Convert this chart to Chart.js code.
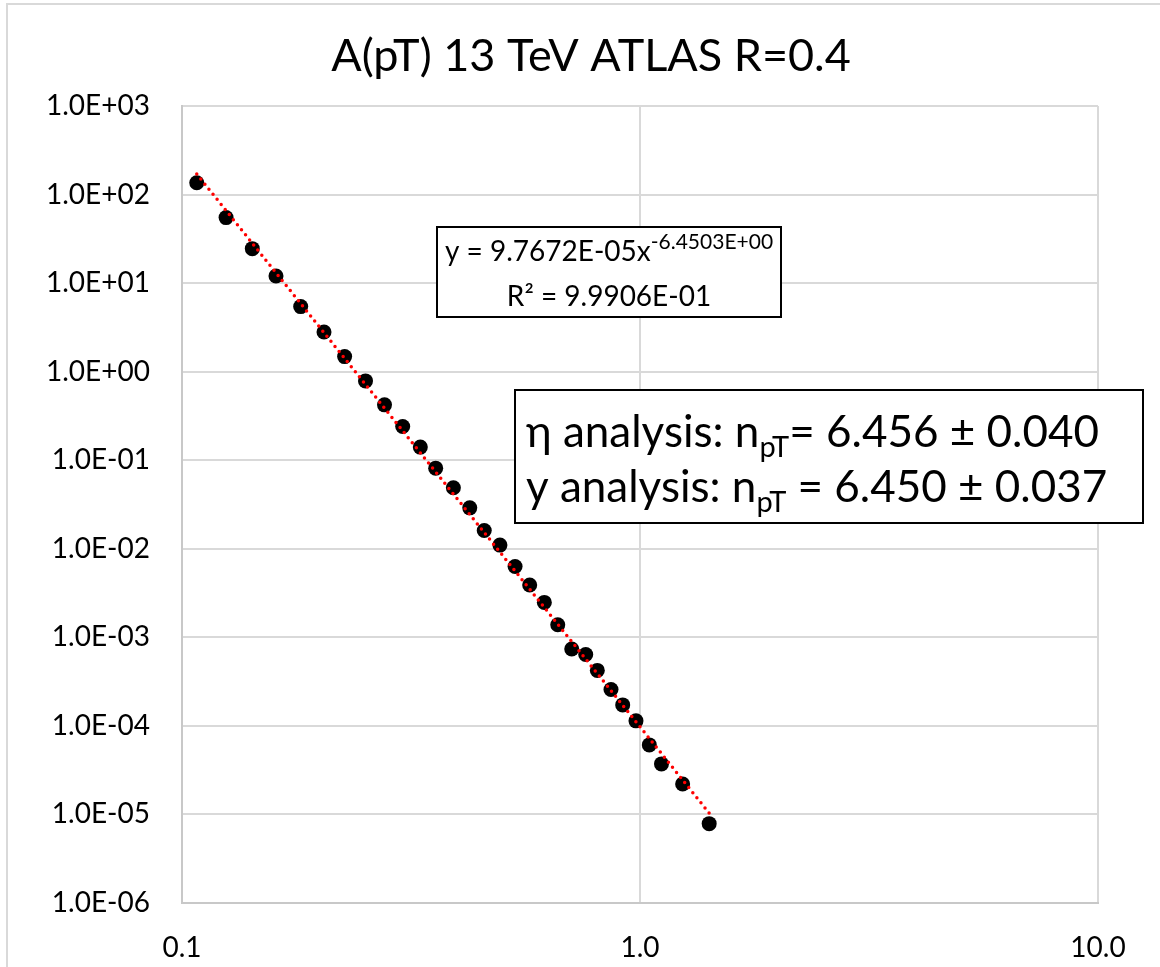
<!DOCTYPE html>
<html>
<head>
<meta charset="utf-8">
<title>A(pT) 13 TeV ATLAS R=0.4</title>
<script src="https://cdn.jsdelivr.net/npm/chart.js@4.4.0/dist/chart.umd.min.js"></script>
<style>
  html, body { margin: 0; padding: 0; background: #fff; }
</style>
</head>
<body>
<canvas id="grafico" width="1160" height="967"></canvas>
<script>
/* ******* Datos ******** */
const ptX = [0.1077, 0.1248, 0.1424, 0.1604, 0.1816, 0.2042, 0.2265, 0.2516, 0.2768, 0.3033,
             0.3314, 0.358, 0.3913, 0.4249, 0.457, 0.4945, 0.5336, 0.5743, 0.6182, 0.6613,
             0.7095, 0.7612, 0.8069, 0.8643, 0.9167, 0.980, 1.048, 1.114, 1.239, 1.416];
const ptA = [136, 54.9, 24.5, 12.05, 5.43, 2.81, 1.48, 0.787, 0.422, 0.240,
             0.1406, 0.0814, 0.0488, 0.0290, 0.0161, 0.0110, 0.00631, 0.0039, 0.00248, 0.001387,
             0.000738, 0.000641, 0.000423, 0.000258, 0.0001726, 0.000114, 6.1e-5, 3.72e-5, 2.21e-5, 7.87e-6];

// ajuste potencial y = A x^n
const ajusteA = 9.7672e-5;
const ajusteN = -6.4503;
const ajusteR2 = 0.99906;

// resultados de los dos analisis
const nEta = ["6.456", "0.040"];
const nRap = ["6.450", "0.037"];

const ticksX = [0.1, 1, 10];
const ticksY = [1e-6, 1e-5, 1e-4, 1e-3, 1e-2, 1e-1, 1, 1e1, 1e2, 1e3];

const titulo = "A(pT) 13 TeV ATLAS R=0.4";
const FUENTE = "Lato, 'Noto Sans', sans-serif";

/* formato tipo Excel: 9.7672E-05 */
function formatoE(v, dec) {
	const partes = v.toExponential(dec).split("e");
	const signo = partes[1][0];
	const exp = partes[1].slice(1).padStart(2, "0");
	return partes[0] + "E" + signo + exp;
}

// linea de tendencia entre el primer y el ultimo punto
const xMin = Math.min(...ptX);
const xMax = Math.max(...ptX);
const tendencia = [xMin, xMax].map(x => ({ x: x, y: ajusteA * Math.pow(x, ajusteN) }));

/* ** textos por trozos (subindices / superindices) ** */
function anchoTrozos(c, trozos) {
	let w = 0;
	for (const t of trozos) {
		c.font = t.size + "px " + FUENTE;
		w += c.measureText(t.t).width;
	}
	return w;
}
function pintarTrozos(c, trozos, x, y) {
	for (const t of trozos) {
		c.font = t.size + "px " + FUENTE;
		c.fillText(t.t, x, y + (t.dy || 0));
		x += c.measureText(t.t).width;
	}
}
function cuadro(c, x, y, w, h) {
	c.fillStyle = "#fff";
	c.fillRect(x, y, w, h);
	c.strokeStyle = "#000";
	c.lineWidth = 2;
	c.strokeRect(x, y, w, h);
}

const marcoYCuadros = {
	id: "marcoYCuadros",
	beforeDraw(chart) {
		const c = chart.ctx;
		c.save();
		c.fillStyle = "#fff";
		c.fillRect(0, 0, chart.width, chart.height);
		c.strokeStyle = "#d9d9d9";
		c.lineWidth = 2;
		c.strokeRect(7, 4, chart.width + 20, chart.height + 20);

		// titulo, centrado un poco a la derecha del centro del lienzo
		c.fillStyle = "#000";
		c.font = "45px " + FUENTE;
		c.textAlign = "center";
		c.textBaseline = "middle";
		c.fillText(titulo, 591, 56);
		c.restore();
	},
	afterDraw(chart) {
		const c = chart.ctx;
		c.save();
		c.textBaseline = "alphabetic";

		// cuadro con la ecuacion del ajuste
		cuadro(c, 437, 227, 344, 90);
		c.fillStyle = "#000";
		const l1 = [
			{ t: "y = " + formatoE(ajusteA, 4) + "x", size: 28 },
			{ t: formatoE(ajusteN, 4), size: 21, dy: -12 }
		];
		const l2 = [{ t: "R\u00B2 = " + formatoE(ajusteR2, 4), size: 28 }];
		const cx = 437 + 344 / 2;
		pintarTrozos(c, l1, cx - anchoTrozos(c, l1) / 2, 261);
		pintarTrozos(c, l2, cx - anchoTrozos(c, l2) / 2, 306);

		// cuadro con los resultados
		cuadro(c, 515, 390, 628, 133);
		c.fillStyle = "#000";
		const a1 = [
			{ t: "\u03B7 analysis: n", size: 44 },
			{ t: "pT", size: 29, dy: 10 },
			{ t: "= " + nEta[0] + " \u00B1 " + nEta[1], size: 44 }
		];
		const a2 = [
			{ t: "y analysis: n", size: 44 },
			{ t: "pT", size: 29, dy: 10 },
			{ t: " = " + nRap[0] + " \u00B1 " + nRap[1], size: 44 }
		];
		pintarTrozos(c, a1, 526, 447);
		pintarTrozos(c, a2, 526, 502);
		c.restore();
	}
};

/* ** Definiciones ** */
const rejilla = { color: "#d9d9d9", lineWidth: 2, drawTicks: false };
const borde = { display: true, color: "#c8c8c8", width: 2 };

const config = {
	type: "scatter",
	data: {
		datasets: [
			{
				label: "Tendencia",
				data: tendencia,
				showLine: true,
				pointRadius: 0,
				borderColor: "#ff0000",
				borderWidth: 3.5,
				borderDash: [0, 6.5],
				borderCapStyle: "round",
				order: 0
			},
			{
				label: "A(pT)",
				data: ptX.map((x, i) => ({ x: x, y: ptA[i] })),
				pointRadius: 7.5,
				pointBackgroundColor: "#000",
				pointBorderWidth: 0,
				order: 1
			}
		]
	},
	options: {
		responsive: false,
		animation: false,
		layout: { padding: { left: 0, right: 62, top: 106, bottom: 0 } },
		plugins: {
			legend: false,
			tooltip: { enabled: false },
			title: { display: false }
		},
		scales: {
			x: {
				type: "logarithmic",
				min: 0.1,
				max: 10,
				grid: rejilla,
				border: borde,
				afterBuildTicks: s => { s.ticks = ticksX.map(v => ({ value: v })); },
				afterFit: s => { s.height = 64; },
				ticks: {
					color: "#000",
					padding: 28,
					maxRotation: 0,
					font: { family: FUENTE, size: 28 },
					callback: v => Number(v).toFixed(1)
				}
			},
			y: {
				type: "logarithmic",
				min: 1e-6,
				max: 1e3,
				grid: rejilla,
				border: borde,
				afterBuildTicks: s => { s.ticks = ticksY.map(v => ({ value: v })); },
				afterFit: s => { s.width = 182; },
				ticks: {
					color: "#000",
					padding: 32,
					font: { family: FUENTE, size: 28 },
					callback: v => formatoE(Number(v), 1)
				}
			}
		}
	},
	plugins: [marcoYCuadros]
};

const grafico = new Chart(document.getElementById("grafico"), config);
</script>
</body>
</html>
